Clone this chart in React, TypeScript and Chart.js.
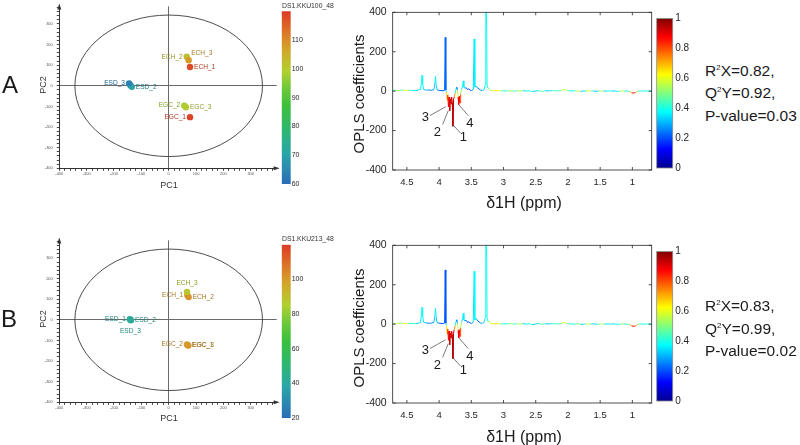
import React, { useEffect, useRef } from "react";
import { Chart, registerables } from "chart.js";
Chart.register(...registerables);

const FONT = "'Liberation Sans', Arial, Helvetica, sans-serif";

// ---------------- Score plot data ----------------
const sampleNames = ["ESD_1", "ESD_2", "ESD_3", "ECH_1", "ECH_2", "ECH_3", "EGC_1", "EGC_2", "EGC_3"];

const pc1A = [-140, -135, -145, 78, 66, 73, 78, 57, 63];
const pc2A = [3, -5, 12, 91, 141, 124, -152, -96, -104];
const colorValA = [66, 70, 64, 118, 102, 108, 119, 98, 100];
const labelSideA = ["none", "right", "left", "right", "left", "topright", "left", "left", "right"];

const pc1B = [-142, -138, -140, 68, 73, 67, 70, 67, 72];
const pc2B = [3, -2, 0, 120, 110, 135, -123, -120, -125];
const colorValB = [40, 42, 41, 100, 102, 88, 101, 100, 101];
const labelSideB = ["left", "right", "bottom", "left", "right", "top", "right", "left", "right"];

const scoreMin = -400;
const scoreMaxX = 395;
const scoreMaxY = 385;
const ellipseRadius = 343;

const cbMinA = 60, cbMaxA = 120, cbStepA = 10;
const cbMinB = 20, cbMaxB = 120, cbStepB = 20;

// ---------------- OPLS loading spectra ----------------
const ppm = [
  4.72, 4.68, 4.64, 4.60, 4.56, 4.52, 4.48, 4.44, 4.40, 4.36,
  4.32, 4.29, 4.275, 4.265, 4.255, 4.24, 4.20, 4.16, 4.12, 4.08,
  4.065, 4.055, 4.045, 4.03, 4.00, 3.97, 3.94, 3.915, 3.905, 3.895,
  3.885, 3.875, 3.865, 3.855, 3.845, 3.835, 3.825, 3.815, 3.805, 3.795,
  3.785, 3.775, 3.765, 3.75, 3.735, 3.725, 3.715, 3.705, 3.695, 3.685,
  3.675, 3.665, 3.65, 3.635, 3.625, 3.615, 3.60, 3.58, 3.56, 3.54,
  3.52, 3.50, 3.47, 3.455, 3.445, 3.43, 3.415, 3.40, 3.38, 3.36,
  3.33, 3.30, 3.285, 3.275, 3.265, 3.255, 3.24, 3.22, 3.20, 3.15,
  3.10, 3.05, 3.00, 2.95, 2.90, 2.85, 2.80, 2.75, 2.70, 2.65,
  2.60, 2.55, 2.50, 2.45, 2.40, 2.35, 2.30, 2.25, 2.20, 2.15,
  2.10, 2.07, 2.04, 2.01, 1.97, 1.92, 1.88, 1.84, 1.80, 1.76,
  1.72, 1.68, 1.64, 1.60, 1.56, 1.52, 1.48, 1.44, 1.40, 1.36,
  1.32, 1.28, 1.24, 1.20, 1.16, 1.12, 1.08, 1.04, 1.01, 0.98,
  0.95, 0.92, 0.88, 0.84, 0.80, 0.76, 0.72, 0.70,
];

const coefA = [
  3, 5, 2, 4, 6, 3, 5, 2, 4, 3,
  6, 8, 40, 80, 35, 8, 5, 6, 4, 8,
  40, 77, 30, 6, 4, 3, 2, 5, 273, 5,
  -5, -45, -20, -80, -30, -100, -40, -65, -30, -60,
  -178, -40, -30, -10, 15, 20, 5, -30, -68, -25,
  -60, -15, 10, 25, 52, 20, 15, 18, 8, 12,
  5, 3, 8, 265, 20, 25, 22, 15, 12, 5,
  3, 8, 30, 480, 460, 30, 15, 12, 3, 2,
  3, 1, 2, 1, 2, 0, 2, 1, 3, 0,
  2, -2, 1, 2, -1, 2, 1, 3, 2, 1,
  4, 7, 8, 4, 1, 2, 0, 1, -1, 1,
  0, 2, 0, 1, -1, 1, 0, 1, 0, 2,
  0, 1, -1, 0, 1, 0, 1, -2, -8, -10,
  -7, -1, 1, 0, 1, 0, 1, 0,
];

const corrA = [
  .35, .45, .60, .50, .40, .70, .55, .35, .45, .30,
  .35, .35, .38, .40, .38, .35, .30, .25, .25, .30,
  .35, .38, .35, .30, .25, .20, .20, .20, .25, .20,
  .62, .72, .82, .88, .85, .95, .92, .92, .90, .92,
  .98, .92, .86, .60, .20, .20, .30, .84, .90, .86,
  .88, .72, .35, .35, .38, .35, .30, .25, .20, .20,
  .20, .25, .30, .38, .35, .35, .30, .25, .20, .25,
  .30, .35, .38, .40, .40, .38, .45, .50, .55, .60,
  .70, .55, .40, .35, .65, .45, .35, .70, .40, .30,
  .45, .35, .30, .40, .55, .35, .30, .40, .50, .35,
  .55, .60, .60, .50, .40, .35, .45, .70, .35, .30,
  .40, .75, .45, .35, .30, .40, .70, .35, .30, .45,
  .35, .30, .40, .35, .75, .40, .35, .50, .85, .90,
  .85, .50, .35, .40, .45, .35, .40, .40,
];

const coefB = [
  2, 4, 3, 5, 4, 2, 5, 3, 4, 3,
  5, 8, 45, 85, 38, 9, 6, 5, 5, 9,
  42, 80, 32, 7, 5, 4, 3, 6, 275, 4,
  -8, -50, -25, -82, -35, -105, -45, -70, -35, -55,
  -175, -45, -28, -8, 18, 22, 4, -32, -70, -28,
  -62, -18, 12, 28, 55, 22, 16, 20, 9, 12,
  6, 4, 9, 268, 22, 28, 25, 16, 12, 6,
  4, 9, 32, 490, 470, 32, 14, 14, 3, 2,
  2, 1, 2, 1, 2, 0, 2, 1, 3, 0,
  2, -3, 1, 3, -1, 2, 1, 3, 2, 1,
  4, 7, 8, 4, 1, 1, 0, 2, -1, 0,
  1, 1, 0, 2, -1, 0, 1, 0, 1, 1,
  0, 2, -1, 1, 0, 1, 0, -2, -9, -11,
  -8, -2, 1, 0, 0, 1, 0, 1,
];

const corrB = [
  .40, .55, .65, .40, .60, .70, .45, .35, .50, .35,
  .30, .35, .38, .40, .38, .35, .30, .25, .25, .30,
  .35, .38, .35, .30, .25, .20, .20, .20, .22, .20,
  .62, .70, .82, .88, .85, .95, .92, .93, .90, .92,
  .98, .92, .86, .60, .20, .20, .30, .84, .90, .86,
  .88, .72, .35, .35, .38, .35, .30, .25, .20, .20,
  .20, .25, .30, .40, .35, .35, .30, .25, .20, .25,
  .30, .35, .38, .40, .40, .38, .45, .55, .55, .65,
  .70, .50, .40, .35, .60, .45, .35, .70, .40, .30,
  .45, .35, .30, .40, .55, .35, .30, .40, .50, .35,
  .55, .60, .60, .50, .40, .40, .35, .65, .30, .35,
  .45, .70, .40, .30, .35, .45, .65, .40, .30, .40,
  .35, .30, .45, .30, .70, .35, .40, .55, .85, .92,
  .85, .55, .40, .35, .45, .40, .35, .35,
];

const ppmMin = 0.70, ppmMax = 4.72, ppmStep = 0.5;
const coefMin = -400, coefMax = 400, coefStep = 200;

// numbered peak annotations (data coordinates)
const annotLabels = ["1", "2", "3", "4"];
const annotTipPpm = [3.79, 3.858, 3.898, 3.693];
const annotTipCoef = [-169, -99, -79, -69];
const annotEndPpm = [3.666, 3.945, 4.142, 3.548];
const annotEndCoef = [-213, -169, -124, -124];
const annotTextPpm = [3.625, 4.028, 4.214, 3.522];
const annotTextCoef = [-233, -211, -135, -162];

// ---------------- colour maps ----------------
const scoreStops: [number, string][] = [
  [0, "#2a6db8"], [0.18, "#2aa6a8"], [0.33, "#2fb868"], [0.45, "#3cc03c"],
  [0.55, "#6cc83a"], [0.65, "#b0d030"], [0.78, "#d4a42a"], [0.88, "#dc7628"], [1, "#dc3a24"],
];
const jetStops: [number, string][] = [
  [0, "#00008f"], [0.125, "#0000ff"], [0.375, "#00ffff"], [0.625, "#ffff00"], [0.875, "#ff0000"], [1, "#800000"],
];

function hexRgb(h: string) {
  return [parseInt(h.slice(1, 3), 16), parseInt(h.slice(3, 5), 16), parseInt(h.slice(5, 7), 16)];
}
function cmap(stops: [number, string][], t: number, k = 1) {
  t = Math.max(0, Math.min(1, t));
  let i = 0;
  while (i < stops.length - 2 && t > stops[i + 1][0]) i++;
  const [t0, c0] = stops[i];
  const [t1, c1] = stops[i + 1];
  const f = (t - t0) / (t1 - t0);
  const a = hexRgb(c0), b = hexRgb(c1);
  const r = (a[0] + (b[0] - a[0]) * f) * k;
  const g = (a[1] + (b[1] - a[1]) * f) * k;
  const bl = (a[2] + (b[2] - a[2]) * f) * k;
  return `rgb(${Math.round(r)},${Math.round(g)},${Math.round(bl)})`;
}

// ---------------- chart builders ----------------
function makeScoreConfig(xs: number[], ys: number[], vals: number[], sides: string[], vmin: number, vmax: number) {
  const colors = vals.map((v) => cmap(scoreStops, (v - vmin) / (vmax - vmin)));
  const textColors = vals.map((v) => cmap(scoreStops, (v - vmin) / (vmax - vmin), 0.78));
  const plugin = {
    id: "scoreExtras",
    beforeDatasetsDraw(chart: any) {
      const { ctx, scales } = chart;
      const x = scales.x, y = scales.y;
      const cx = x.getPixelForValue(0), cy = y.getPixelForValue(0);
      const rx = Math.abs(x.getPixelForValue(ellipseRadius) - cx);
      const ry = Math.abs(y.getPixelForValue(ellipseRadius) - cy);
      ctx.save();
      ctx.beginPath();
      ctx.ellipse(cx, cy, rx, ry, 0, 0, Math.PI * 2);
      ctx.strokeStyle = "#3a3a3a";
      ctx.lineWidth = 0.9;
      ctx.stroke();
      ctx.restore();
    },
    afterDraw(chart: any) {
      const { ctx, chartArea: a, scales } = chart;
      const x = scales.x, y = scales.y;
      ctx.save();
      ctx.fillStyle = "#333";
      ctx.beginPath();
      ctx.moveTo(a.right + 3, a.bottom);
      ctx.lineTo(a.right - 3, a.bottom - 2);
      ctx.lineTo(a.right - 3, a.bottom + 2);
      ctx.closePath();
      ctx.fill();
      ctx.beginPath();
      ctx.moveTo(a.left, a.top - 3);
      ctx.lineTo(a.left - 2, a.top + 3);
      ctx.lineTo(a.left + 2, a.top + 3);
      ctx.closePath();
      ctx.fill();
      ctx.font = `6.6px ${FONT}`;
      ctx.textBaseline = "middle";
      sampleNames.forEach((n, i) => {
        const side = sides[i];
        if (side === "none") return;
        const px = x.getPixelForValue(xs[i]);
        const py = y.getPixelForValue(ys[i]);
        let tx = px, ty = py;
        if (side === "left") { ctx.textAlign = "right"; tx = px - 4; }
        else if (side === "right") { ctx.textAlign = "left"; tx = px + 4; }
        else if (side === "topright") { ctx.textAlign = "left"; tx = px + 2.5; ty = py - 7.5; }
        else if (side === "top") { ctx.textAlign = "center"; ty = py - 9; }
        else if (side === "bottom") { ctx.textAlign = "center"; ty = py + 11; }
        ctx.fillStyle = textColors[i];
        ctx.fillText(n, tx, ty);
      });
      ctx.restore();
    },
  };
  const axisCommon = (isX: boolean) => ({
    type: "linear",
    min: scoreMin,
    max: isX ? scoreMaxX : scoreMaxY,
    afterFit: (s: any) => { if (isX) s.height = 20; else s.width = 40; },
    border: { color: "#333", width: 1 },
    grid: {
      color: (c: any) => (c.tick && c.tick.value === 0 ? "#6a6a6a" : "rgba(0,0,0,0)"),
      lineWidth: 1,
      drawTicks: true,
      tickLength: 2.5,
      tickColor: "#444",
    },
    ticks: {
      stepSize: 20,
      autoSkip: false,
      includeBounds: false,
      maxRotation: 0,
      minRotation: 0,
      font: { size: 4, family: FONT },
      color: "#555",
      padding: isX ? 1 : 4,
      callback: (v: number) => (Math.round(v) % 100 === 0 ? String(Math.round(v)) : ""),
    },
  });
  return {
    type: "scatter",
    data: {
      datasets: [{
        data: xs.map((v, i) => ({ x: v, y: ys[i] })),
        backgroundColor: colors,
        borderWidth: 0,
        pointRadius: 3.2,
        pointHoverRadius: 3.2,
      }],
    },
    options: {
      responsive: false,
      animation: false,
      events: [],
      layout: { padding: { left: 19.3, right: 23.3, top: 5, bottom: 11.7 } },
      plugins: { legend: { display: false }, tooltip: { enabled: false }, title: { display: false } },
      scales: { x: axisCommon(true), y: axisCommon(false) },
    },
    plugins: [plugin],
  };
}

function makeSpectrumConfig(coef: number[], corr: number[]) {
  const plugin = {
    id: "specExtras",
    afterDraw(chart: any) {
      const { ctx, chartArea: a, scales } = chart;
      const x = scales.x, y = scales.y;
      ctx.save();
      ctx.strokeStyle = "#262626";
      ctx.lineWidth = 0.8;
      ctx.strokeRect(a.left, a.top, a.right - a.left, a.bottom - a.top);
      ctx.beginPath();
      x.ticks.forEach((t: any) => {
        const px = x.getPixelForValue(t.value);
        ctx.moveTo(px, a.bottom); ctx.lineTo(px, a.bottom - 3);
        ctx.moveTo(px, a.top); ctx.lineTo(px, a.top + 3);
      });
      y.ticks.forEach((t: any) => {
        const py = y.getPixelForValue(t.value);
        ctx.moveTo(a.left, py); ctx.lineTo(a.left + 3, py);
        ctx.moveTo(a.right, py); ctx.lineTo(a.right - 3, py);
      });
      ctx.stroke();
      // numbered annotations
      ctx.strokeStyle = "#444";
      ctx.lineWidth = 0.7;
      ctx.fillStyle = "#1a1a1a";
      ctx.font = `13px ${FONT}`;
      ctx.textAlign = "center";
      ctx.textBaseline = "middle";
      annotLabels.forEach((lab, i) => {
        ctx.beginPath();
        ctx.moveTo(x.getPixelForValue(annotTipPpm[i]), y.getPixelForValue(annotTipCoef[i]));
        ctx.lineTo(x.getPixelForValue(annotEndPpm[i]), y.getPixelForValue(annotEndCoef[i]));
        ctx.stroke();
        ctx.fillText(lab, x.getPixelForValue(annotTextPpm[i]), y.getPixelForValue(annotTextCoef[i]));
      });
      ctx.restore();
    },
  };
  return {
    type: "line",
    data: {
      datasets: [{
        data: ppm.map((v, i) => ({ x: v, y: coef[i] })),
        borderWidth: 1,
        pointRadius: 0,
        tension: 0,
        borderColor: "#33ccee",
        segment: {
          borderColor: (c: any) => cmap(jetStops, (corr[c.p0DataIndex] + corr[c.p1DataIndex]) / 2),
        },
      }],
    },
    options: {
      responsive: false,
      animation: false,
      events: [],
      layout: { padding: { left: 0, right: 10.3, top: 10.5, bottom: 10 } },
      plugins: { legend: { display: false }, tooltip: { enabled: false } },
      scales: {
        x: {
          type: "linear",
          reverse: true,
          min: ppmMin,
          max: ppmMax,
          afterFit: (s: any) => { s.height = 20; },
          border: { display: false },
          grid: { display: false, drawTicks: false },
          ticks: {
            stepSize: ppmStep,
            includeBounds: false,
            autoSkip: false,
            maxRotation: 0,
            minRotation: 0,
            font: { size: 9.5, family: FONT },
            color: "#262626",
            padding: 7,
            callback: (v: number) => String(Math.round(v * 10) / 10),
          },
        },
        y: {
          type: "linear",
          min: coefMin,
          max: coefMax,
          afterFit: (s: any) => { s.width = 40.7; },
          border: { display: false },
          grid: { display: false, drawTicks: false },
          ticks: {
            stepSize: coefStep,
            font: { size: 10.5, family: FONT },
            color: "#262626",
            padding: 6,
          },
        },
      },
    },
    plugins: [plugin],
  };
}

function makeColorbarConfig(
  min: number, max: number, step: number, stops: [number, string][],
  pad: { left: number; right: number; top: number; bottom: number },
  axisWidth: number, fontSize: number, labelPad: number, hideMax: boolean, boxed: boolean,
) {
  const plugin = {
    id: "cbBox",
    afterDraw(chart: any) {
      if (!boxed) return;
      const { ctx, chartArea: a } = chart;
      ctx.save();
      ctx.strokeStyle = "#8a8a8a";
      ctx.lineWidth = 0.8;
      ctx.strokeRect(a.left, a.top, a.right - a.left, a.bottom - a.top);
      ctx.restore();
    },
  };
  return {
    type: "bar",
    data: {
      labels: [""],
      datasets: [{
        data: [[min, max]],
        borderWidth: 0,
        barPercentage: 1,
        categoryPercentage: 1,
        backgroundColor: (c: any) => {
          const ch = c.chart;
          const a = ch.chartArea;
          if (!a) return "rgba(0,0,0,0)";
          const g = ch.ctx.createLinearGradient(0, a.bottom, 0, a.top);
          stops.forEach(([t, col]) => g.addColorStop(t, col));
          return g;
        },
      }],
    },
    options: {
      responsive: false,
      animation: false,
      events: [],
      layout: { padding: pad },
      plugins: { legend: { display: false }, tooltip: { enabled: false } },
      scales: {
        x: { display: false },
        y: {
          position: "right",
          min,
          max,
          afterFit: (s: any) => { s.width = axisWidth; },
          border: { display: false },
          grid: { display: false, drawTicks: false },
          ticks: {
            stepSize: step,
            font: { size: fontSize, family: FONT },
            color: "#262626",
            padding: labelPad,
            callback: (v: number) => (hideMax && v >= max ? "" : String(Math.round(v * 10) / 10)),
          },
        },
      },
    },
    plugins: [plugin],
  };
}

// ---------------- components ----------------
function ChartBox({ left, top, width, height, make }: any) {
  const ref = useRef<HTMLCanvasElement>(null);
  useEffect(() => {
    const chart = new Chart(ref.current as HTMLCanvasElement, make());
    return () => chart.destroy();
  }, []);
  return (
    <canvas
      ref={ref}
      width={width}
      height={height}
      style={{ position: "absolute", left, top, width, height }}
    />
  );
}

function Txt({ x, y, size, children, rot = false, align = "center", color = "#1a1a1a" }: any) {
  const tx = align === "center" ? "-50%" : "0";
  return (
    <div
      style={{
        position: "absolute",
        left: x,
        top: y,
        transform: `translate(${tx},-50%)${rot ? " rotate(-90deg)" : ""}`,
        fontSize: size,
        fontFamily: FONT,
        color,
        whiteSpace: "nowrap",
        lineHeight: 1,
      }}
    >
      {children}
    </div>
  );
}

function Stats({ top, r2x, q2y, p }: any) {
  const sup = { fontSize: 8, position: "relative" as const, top: -6 };
  return (
    <div
      style={{
        position: "absolute",
        left: 705,
        top,
        fontFamily: FONT,
        fontSize: 15.5,
        lineHeight: "19.3px",
        color: "#1a1a1a",
        whiteSpace: "nowrap",
      }}
    >
      <div>R<span style={sup}>2</span>X={r2x},</div>
      <div>Q<span style={sup}>2</span>Y={q2y},</div>
      <div>P-value={p}</div>
    </div>
  );
}

export default function App() {
  return (
    <div
      style={{
        position: "absolute",
        left: 0,
        top: 0,
        width: 800,
        height: 445,
        background: "#fff",
        overflow: "hidden",
      }}
    >
      {/* Score plots */}
      <ChartBox left={0} top={0} width={300} height={200}
        make={() => makeScoreConfig(pc1A, pc2A, colorValA, labelSideA, cbMinA, cbMaxA)} />
      <ChartBox left={0} top={234} width={300} height={200}
        make={() => makeScoreConfig(pc1B, pc2B, colorValB, labelSideB, cbMinB, cbMaxB)} />

      {/* Score colour bars */}
      <ChartBox left={276} top={0} width={60} height={195}
        make={() => makeColorbarConfig(cbMinA, cbMaxA, cbStepA, scoreStops,
          { left: 5.7, right: 15.3, top: 11.2, bottom: 11 }, 30, 7, 1, true, false)} />
      <ChartBox left={276} top={232} width={60} height={195}
        make={() => makeColorbarConfig(cbMinB, cbMaxB, cbStepB, scoreStops,
          { left: 5.7, right: 15.3, top: 12.7, bottom: 9 }, 30, 7, 1, true, false)} />

      {/* Spectra */}
      <ChartBox left={352} top={0} width={310} height={200}
        make={() => makeSpectrumConfig(coefA, corrA)} />
      <ChartBox left={352} top={233} width={310} height={200}
        make={() => makeSpectrumConfig(coefB, corrB)} />

      {/* Spectrum colour bars */}
      <ChartBox left={650} top={0} width={50} height={185}
        make={() => makeColorbarConfig(0, 1, 0.2, jetStops,
          { left: 6.7, right: 2.3, top: 18.5, bottom: 17 }, 25, 10, 2.5, false, true)} />
      <ChartBox left={650} top={233} width={50} height={185}
        make={() => makeColorbarConfig(0, 1, 0.2, jetStops,
          { left: 6.7, right: 2.3, top: 18.5, bottom: 17 }, 25, 10, 2.5, false, true)} />

      {/* Panel letters */}
      <Txt x={10} y={85} size={24}>A</Txt>
      <Txt x={9} y={319} size={24}>B</Txt>

      {/* Score axis titles */}
      <Txt x={169} y={185} size={9} color="#333">PC1</Txt>
      <Txt x={43} y={85} size={9} color="#333" rot>PC2</Txt>
      <Txt x={169} y={418} size={9} color="#333">PC1</Txt>
      <Txt x={43} y={319} size={9} color="#333" rot>PC2</Txt>

      {/* Colour bar titles */}
      <Txt x={282} y={5.5} size={6.8} color="#333" align="left">DS1.KKU100_48</Txt>
      <Txt x={282} y={239.3} size={6.8} color="#333" align="left">DS1.KKU213_48</Txt>

      {/* Spectrum axis titles */}
      <Txt x={357.5} y={94} size={15} rot>OPLS coefficients</Txt>
      <Txt x={524} y={202.7} size={16}>δ1H (ppm)</Txt>
      <Txt x={357.5} y={328} size={15} rot>OPLS coefficients</Txt>
      <Txt x={524} y={436.7} size={16}>δ1H (ppm)</Txt>

      {/* Model statistics */}
      <Stats top={61} r2x="0.82" q2y="0.92" p="0.03" />
      <Stats top={296.3} r2x="0.83" q2y="0.99" p="0.02" />
    </div>
  );
}
